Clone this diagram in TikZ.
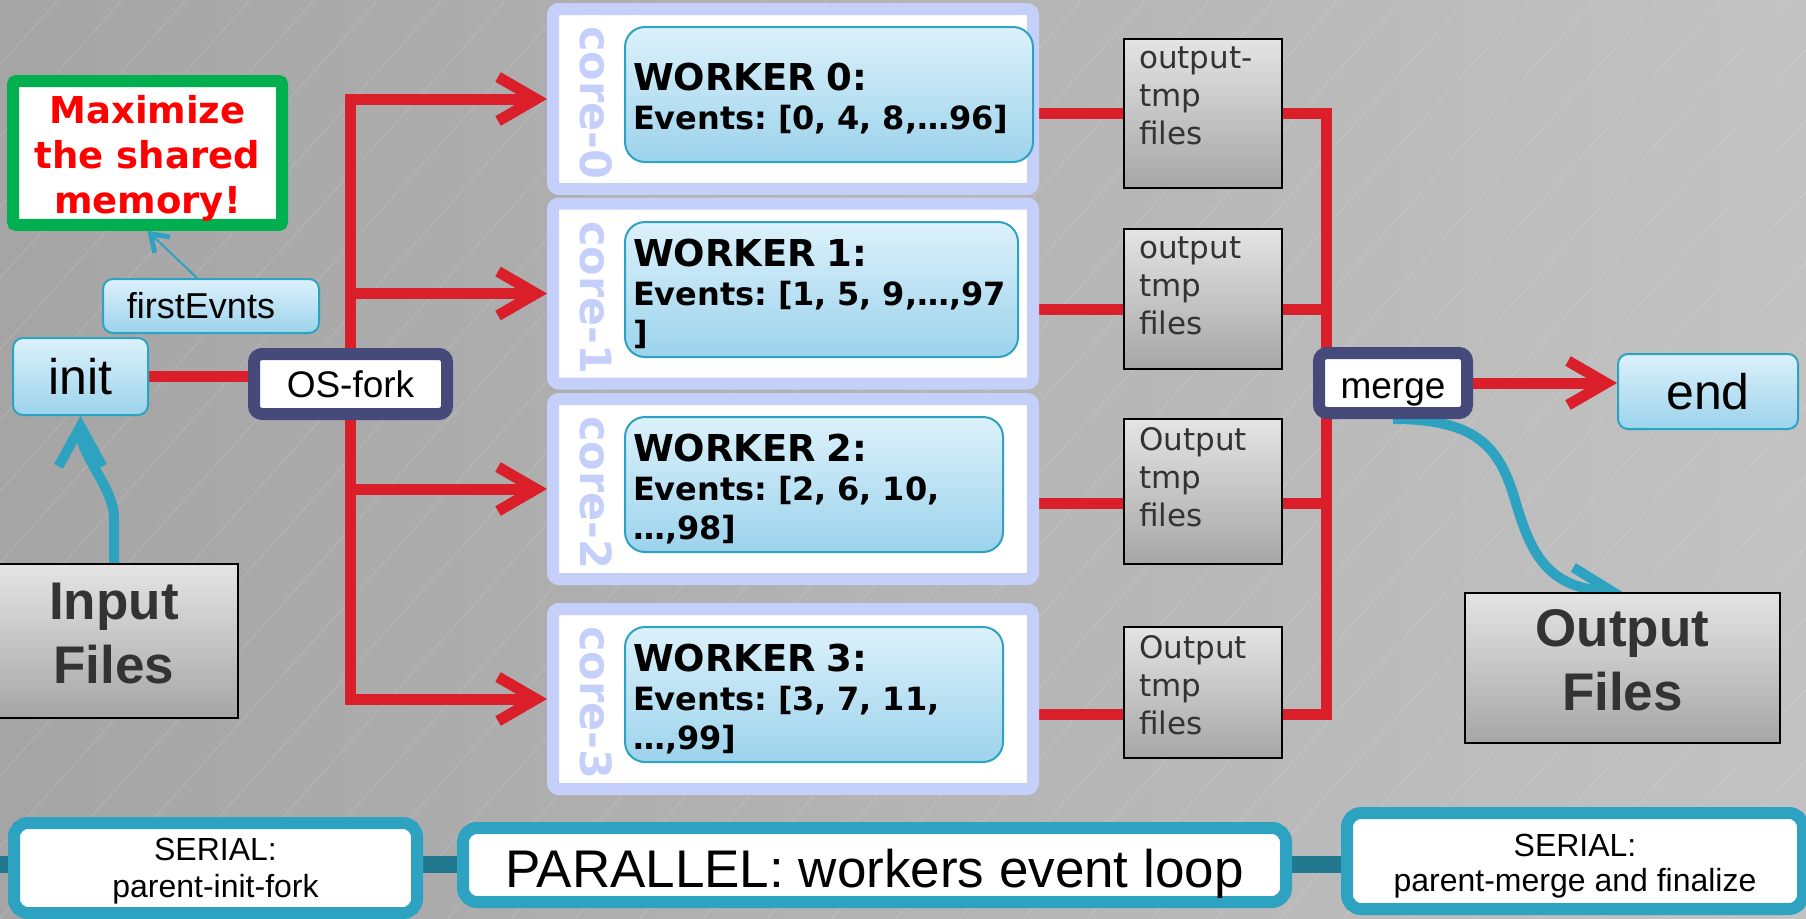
\documentclass[tikz,border=0pt]{standalone}
\usepackage{fontspec}
\setmainfont{Liberation Sans}
\newfontfamily\dejavu{DejaVu Sans}
\usetikzlibrary{arrows.meta}
\pgfdeclarelayer{canvas}
\pgfdeclarelayer{wires}
\pgfsetlayers{canvas,wires,main}
\frenchspacing

\definecolor{flowred}{RGB}{218,31,42}
\definecolor{forknavy}{RGB}{70,74,122}
\definecolor{notegreen}{RGB}{0,176,80}
\definecolor{corelav}{RGB}{197,208,250}
\definecolor{tealedge}{RGB}{46,163,193}
\definecolor{tealbar}{RGB}{33,120,143}
\definecolor{skytop}{RGB}{220,241,251}
\definecolor{skybot}{RGB}{156,211,236}
\definecolor{filetop}{RGB}{228,228,228}
\definecolor{filebot}{RGB}{166,166,166}
\definecolor{filetext}{RGB}{51,51,51}
\definecolor{bgleft}{RGB}{165,165,165}
\definecolor{bgright}{RGB}{194,194,194}

\newcommand\fsz[2]{\fontsize{#1pt}{#2pt}\selectfont}
% invisible struts that push a label's lines up or down inside its box
\newcommand\lift[1]{\rule{0pt}{#1pt}}
\newcommand\sink[1]{\rule[-#1pt]{0pt}{#1pt}}

\begin{document}
\begin{tikzpicture}[x=1pt,y=-1pt,
  redflow/.style={draw=flowred,line width=11pt},
  redarrow/.style={redflow,-{Straight Barb[length=38pt,width=44pt]}},
  bluearrow/.style={draw=tealedge,line width=10pt,-{Straight Barb[length=40pt,width=44pt]}},
  notearrow/.style={draw=tealedge,line width=2pt,-{Straight Barb[length=16pt,width=22pt,line width=5pt]}},
  busline/.style={draw=tealbar,line width=17pt},
  skybox/.style={draw=tealedge,line width=2pt,rounded corners=10pt,
    top color=skytop,bottom color=skybot,inner sep=0pt},
  filebox/.style={draw=black,line width=2pt,top color=filetop,bottom color=filebot,inner sep=0pt},
  navybox/.style={draw=forknavy,line width=12pt,fill=white,rounded corners=8pt,
    inner sep=0pt,font=\fsz{37}{40}},
  notebox/.style={draw=notegreen,line width=12pt,fill=white,rounded corners=3pt,
    align=center,text=red,font=\dejavu\bfseries\fsz{37}{45}},
  corepanel/.style={draw=corelav,line width=12pt,fill=white,rounded corners=6pt,
    minimum width=480pt,minimum height=180pt,inner sep=0pt},
  coretext/.style={text=corelav,font=\dejavu\bfseries\fsz{43}{43},inner sep=0pt,rotate=-90},
  worker/.style={skybox,rounded corners=20pt,align=left,inner xsep=8pt,
    minimum height=135pt,font=\dejavu\bfseries\fsz{32}{39}},
  tmpbox/.style={filebox,minimum width=158pt},
  tmptext/.style={anchor=north west,inner sep=0pt,align=left,text=filetext,
    font=\dejavu\fsz{31}{38}},
  bigfile/.style={filebox,align=center,text=filetext,font=\bfseries\fsz{53}{64}},
  phasebox/.style={draw=tealedge,line width=12pt,fill=white,rounded corners=14pt,
    inner sep=0pt,align=center}
]
\useasboundingbox (0,0) rectangle (1806,918);

% backdrop: grey gradient with faint diagonal hairlines
\begin{pgfonlayer}{canvas}
  \fill[left color=bgleft,right color=bgright] (0,0) rectangle (1806,918);
  \begin{scope}
    \clip (0,0) rectangle (1806,918);
    \foreach \k in {-960,-896,...,1800}
      \draw[white,opacity=0.16,line width=0.8pt] (\k,918) -- ++(900,-1000);
  \end{scope}
\end{pgfonlayer}

% ---------- serial start ----------
\node[notebox,minimum width=269pt,minimum height=138pt] (note) at (147.5,153)
  {\lift{39}Maximize\\the shared\\memory!};
\node[skybox,minimum width=216pt,minimum height=54pt,font=\fsz{36}{40}] (fe) at (211,306)
  {firstEvnts\hspace*{20pt}};
\node[skybox,minimum width=135pt,minimum height=77pt,font=\fsz{50}{55}] (init) at (80.5,376.5) {init};
\node[navybox,minimum width=193pt,minimum height=60pt] (fork) at (350.5,384) {OS-fork};
\node[bigfile,minimum width=248pt,minimum height=154pt] (inf) at (114,641) {Input\\Files\sink{16}};

% ---------- cores and workers ----------
\node[corepanel] (p0) at (793,99) {};
\node[corepanel] (p1) at (793,293.5) {};
\node[corepanel] (p2) at (793,489) {};
\node[corepanel] (p3) at (793,699) {};
\node[coretext] (c0) at (596,103) {core-0};
\node[coretext] (c1) at (596,298) {core-1};
\node[coretext] (c2) at (596,493) {core-2};
\node[coretext] (c3) at (596,703) {core-3};

\node[worker,text width=392pt] (w0) at (829,94.5)
  {{\fsz{37}{39}\lift{36}WORKER 0:}\\\mbox{Events: [0, 4, 8,…96]}};
\node[worker,text width=377pt] (w1) at (821.5,289.5)
  {{\fsz{37}{39}\lift{36}WORKER 1:}\\\mbox{Events: [1, 5, 9,…,97}\\]};
\node[worker,text width=362pt] (w2) at (814,484.5)
  {{\fsz{37}{39}\lift{36}WORKER 2:}\\\mbox{Events: [2, 6, 10,}\\…,98]};
\node[worker,text width=362pt] (w3) at (814,694.5)
  {{\fsz{37}{39}\lift{36}WORKER 3:}\\\mbox{Events: [3, 7, 11,}\\…,99]};

% ---------- temporary outputs ----------
\node[tmpbox,minimum height=149pt] (o0) at (1203,113.5) {};
\node[tmpbox,minimum height=140pt] (o1) at (1203,299) {};
\node[tmpbox,minimum height=145pt] (o2) at (1203,491.5) {};
\node[tmpbox,minimum height=131pt] (o3) at (1203,692.5) {};
\node[tmptext] (o0t) at ([xshift=16pt,yshift=-9pt]o0.north west) {output-\\tmp\\files};
\node[tmptext] (o1t) at ([xshift=16pt,yshift=-9pt]o1.north west) {output\\tmp\\files};
\node[tmptext] (o2t) at ([xshift=16pt,yshift=-9pt]o2.north west) {Output\\tmp\\files};
\node[tmptext] (o3t) at ([xshift=16pt,yshift=-9pt]o3.north west) {Output\\tmp\\files};

% ---------- serial end ----------
\node[navybox,minimum width=148pt,minimum height=60pt] (merge) at (1393,383) {\lift{38}merge};
\node[skybox,minimum width=180pt,minimum height=75pt,font=\fsz{50}{55}] (end) at (1708,391.5) {end};
\node[bigfile,minimum width=315pt,minimum height=150pt] (outf) at (1622.5,668) {Output\\Files\sink{16}};

% ---------- phase legend ----------
\node[phasebox,minimum width=403pt,minimum height=90pt,font=\fsz{32}{37}] (s1) at (215.5,868)
  {\lift{28}SERIAL:\\parent-init-fork};
\node[phasebox,minimum width=823pt,minimum height=74pt,font=\fsz{53}{56}] (par) at (874.5,865)
  {\lift{55}PARALLEL: workers event loop};
\node[phasebox,minimum width=456pt,minimum height=96pt,font=\fsz{32}{35}] (s3) at (1575,861)
  {\lift{32}SERIAL:\\parent-merge and finalize};

\coordinate (busstart) at (0,864);
\coordinate (j0) at (1326,113);
\coordinate (j1) at (1326,309);
\coordinate (j2) at (1326,503);
\coordinate (j3) at (1326,714);

% ---------- connectors ----------
\begin{pgfonlayer}{wires}
  \draw[busline] (busstart) -- (busstart -| s3.west);

  \draw[notearrow] ([xshift=-14pt]fe.north) -- (note.south);
  \draw[bluearrow] (inf.north) -- ++(0,-45) .. controls +(0,-30) and +(0,40) .. (init.south);

  \draw[redflow] (init.east) -- (init.east -| fork.west);
  \draw[redarrow] (fork.center) -- (fork.center |- p0.west) -- (p0.west);
  \draw[redarrow] (fork.center) -- (fork.center |- p3.west) -- (p3.west);
  \draw[redarrow] (fork.center |- p1.west) -- (p1.west);
  \draw[redarrow] (fork.center |- p2.west) -- (p2.west);

  \draw[redflow] (p0.east |- j0) -- (j0) -- (j3) -- (p3.east |- j3);
  \draw[redflow] (p1.east |- j1) -- (j1);
  \draw[redflow] (p2.east |- j2) -- (j2);

  \draw[redarrow] (merge.east) -- (merge.east -| end.west);
  \draw[bluearrow] (merge.south) .. controls (1480,419) and (1500,450) .. (1515,500)
    .. controls (1530,550) and (1545,588) .. (outf.north);
\end{pgfonlayer}
\end{tikzpicture}
\end{document}
